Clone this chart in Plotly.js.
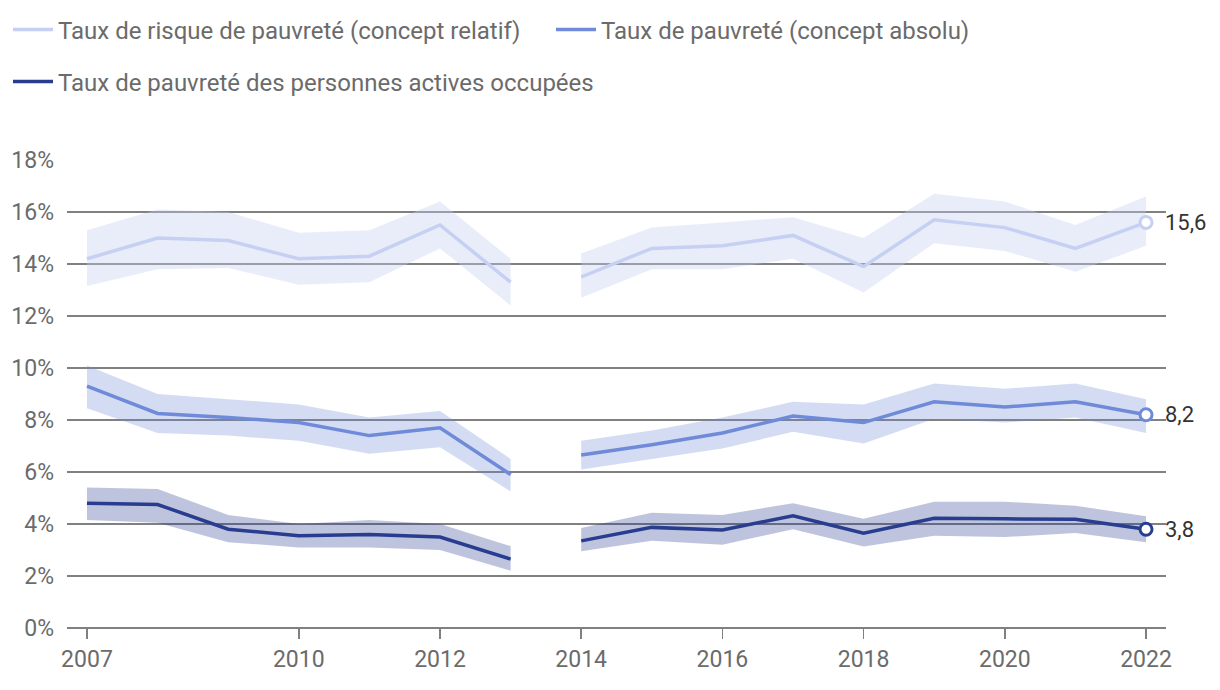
<!DOCTYPE html>
<html>
<head>
<meta charset="utf-8">
<script src="https://cdn.plot.ly/plotly-3.0.1.min.js"></script>
<style>
html,body{margin:0;padding:0;background:#fff;}
#chart{width:1220px;height:690px;}
</style>
</head>
<body>
<div id="chart"></div>
<script>
// Years (two segments separated by a gap between 2013 and 2014)
const years1 = [2007, 2008, 2009, 2010, 2011, 2012, 2013];
const years2 = [2014, 2015, 2016, 2017, 2018, 2019, 2020, 2021, 2022];

// Taux de risque de pauvreté (concept relatif)
const relatif1 = [14.2, 15.0, 14.9, 14.2, 14.3, 15.5, 13.3];
const relatif1Hi = [15.3, 16.1, 16.0, 15.2, 15.3, 16.4, 14.2];
const relatif1Lo = [13.15, 13.8, 13.85, 13.2, 13.3, 14.6, 12.4];
const relatif2 = [13.5, 14.6, 14.7, 15.1, 13.9, 15.7, 15.4, 14.6, 15.6];
const relatif2Hi = [14.4, 15.4, 15.6, 15.8, 15.0, 16.7, 16.4, 15.5, 16.6];
const relatif2Lo = [12.7, 13.8, 13.8, 14.2, 12.9, 14.8, 14.5, 13.7, 14.7];

// Taux de pauvreté (concept absolu)
const absolu1 = [9.3, 8.25, 8.1, 7.9, 7.4, 7.7, 5.9];
const absolu1Hi = [10.1, 9.0, 8.8, 8.6, 8.1, 8.35, 6.5];
const absolu1Lo = [8.45, 7.5, 7.4, 7.2, 6.7, 6.95, 5.25];
const absolu2 = [6.65, 7.05, 7.5, 8.15, 7.9, 8.7, 8.5, 8.7, 8.2];
const absolu2Hi = [7.2, 7.6, 8.1, 8.7, 8.6, 9.4, 9.2, 9.4, 8.8];
const absolu2Lo = [6.1, 6.5, 6.9, 7.55, 7.1, 8.05, 7.9, 8.1, 7.5];

// Taux de pauvreté des personnes actives occupées
const actifs1 = [4.8, 4.75, 3.8, 3.55, 3.6, 3.5, 2.65];
const actifs1Hi = [5.4, 5.35, 4.35, 4.0, 4.15, 4.0, 3.15];
const actifs1Lo = [4.15, 4.05, 3.3, 3.1, 3.1, 3.0, 2.2];
const actifs2 = [3.35, 3.87, 3.77, 4.32, 3.65, 4.22, 4.2, 4.18, 3.8];
const actifs2Hi = [3.85, 4.43, 4.35, 4.8, 4.2, 4.86, 4.86, 4.7, 4.3];
const actifs2Lo = [2.95, 3.36, 3.2, 3.8, 3.13, 3.55, 3.5, 3.65, 3.3];

const seriesNames = [
  'Taux de risque de pauvreté (concept relatif)',
  'Taux de pauvreté (concept absolu)',
  'Taux de pauvreté des personnes actives occupées'
];
const xTickVals = [2007, 2010, 2012, 2014, 2016, 2018, 2020, 2022];
const yTickVals = [0, 2, 4, 6, 8, 10, 12, 14, 16, 18];
const yTickText = ['0%', '2%', '4%', '6%', '8%', '10%', '12%', '14%', '16%', '18%'];

const colors = ['#c5d0f2', '#6f8ad8', '#283d8f'];
const bandColors = ['rgba(197,208,242,0.38)', 'rgba(111,138,216,0.3)', 'rgba(40,61,143,0.3)'];
const legendIds = ['legend', 'legend3', 'legend2'];

const series = [
  {seg: [[years1, relatif1, relatif1Hi, relatif1Lo], [years2, relatif2, relatif2Hi, relatif2Lo]]},
  {seg: [[years1, absolu1, absolu1Hi, absolu1Lo], [years2, absolu2, absolu2Hi, absolu2Lo]]},
  {seg: [[years1, actifs1, actifs1Hi, actifs1Lo], [years2, actifs2, actifs2Hi, actifs2Lo]]}
];

const traces = [];
series.forEach((s, i) => {
  s.seg.forEach(([x, y, hi, lo]) => {
    traces.push({
      x: x.concat(x.slice().reverse()),
      y: hi.concat(lo.slice().reverse()),
      type: 'scatter', mode: 'lines', fill: 'toself',
      fillcolor: bandColors[i], line: {width: 0, color: 'rgba(0,0,0,0)'},
      showlegend: false, hoverinfo: 'skip'
    });
  });
});
series.forEach((s, i) => {
  s.seg.forEach(([x, y], j) => {
    traces.push({
      x: x, y: y, type: 'scatter', mode: 'lines',
      name: seriesNames[i],
      line: {color: colors[i], width: 3.5},
      showlegend: j === 0,
      legend: legendIds[i]
    });
  });
});
const lastVals = [relatif2, absolu2, actifs2];
const annotations = [];
lastVals.forEach((arr, i) => {
  const xv = years2[years2.length - 1], yv = arr[arr.length - 1];
  traces.push({
    x: [xv], y: [yv],
    type: 'scatter', mode: 'markers',
    marker: {size: 12, color: '#ffffff', line: {color: colors[i], width: 3}},
    showlegend: false, cliponaxis: false, hoverinfo: 'skip'
  });
  annotations.push({
    x: xv, y: yv, xref: 'x', yref: 'y', xanchor: 'left', yanchor: 'middle',
    xshift: 17, showarrow: false,
    text: String(yv).replace('.', ','),
    font: {family: 'Roboto, sans-serif', size: 22, color: '#333333'}
  });
});

function legendAt(xpx, ypx) {
  return {
    orientation: 'h', x: xpx / 1220, xanchor: 'left', y: 1 - ypx / 690, yanchor: 'middle',
    xref: 'container', yref: 'container',
    font: {size: 24, color: '#6b6b6b'}, itemwidth: 40,
    bgcolor: 'rgba(0,0,0,0)'
  };
}

const layout = {
  width: 1220, height: 690,
  margin: {l: 67, r: 54, t: 160, b: 62},
  paper_bgcolor: '#ffffff', plot_bgcolor: '#ffffff',
  font: {family: 'Roboto, sans-serif', size: 23, color: '#6b6b6b'},
  showlegend: true,
  annotations: annotations,
  legend: legendAt(8, 30),
  legend3: legendAt(551, 30),
  legend2: legendAt(8, 82),
  xaxis: {
    range: [2006.717, 2022.283], tickvals: xTickVals, ticktext: xTickVals.map(String),
    showgrid: false, zeroline: false, showline: false,
    ticks: 'outside', ticklen: 10, tickwidth: 1.5, tickcolor: '#808080',
    tickfont: {size: 23, color: '#6b6b6b'}, fixedrange: true
  },
  yaxis: {
    range: [0, 18], tickvals: yTickVals, ticktext: yTickText,
    showgrid: true, gridcolor: '#808080', gridwidth: 1.5,
    zeroline: true, zerolinecolor: '#808080', zerolinewidth: 2.5,
    showline: false, ticks: '', ticklabelstandoff: 12,
    tickfont: {size: 23, color: '#6b6b6b'}, fixedrange: true
  }
};

Plotly.newPlot('chart', traces, layout, {displayModeBar: false, staticPlot: true});
</script>
</body>
</html>
